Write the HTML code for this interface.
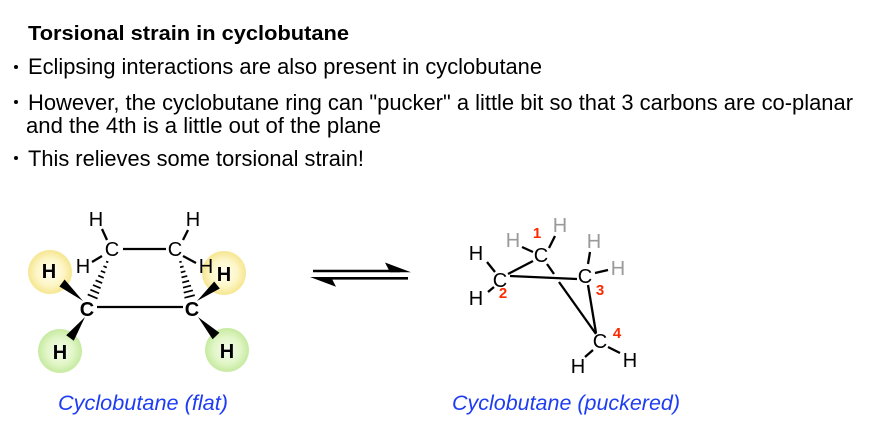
<!DOCTYPE html>
<html><head><meta charset="utf-8"><style>
html,body{margin:0;padding:0;background:#fff;}
svg{display:block;}
text{font-family:"Liberation Sans",Arial,sans-serif;}
</style></head><body>
<svg width="870" height="442" viewBox="0 0 870 442" xmlns="http://www.w3.org/2000/svg">
<defs>
<radialGradient id="yg" cx="50%" cy="50%" r="50%">
<stop offset="0%" stop-color="#fffef2"/><stop offset="60%" stop-color="#fdf6c8"/><stop offset="100%" stop-color="#f6e690"/>
</radialGradient>
<radialGradient id="gg" cx="50%" cy="50%" r="50%">
<stop offset="0%" stop-color="#f6fcec"/><stop offset="60%" stop-color="#e2f6c8"/><stop offset="100%" stop-color="#c6eaa0"/>
</radialGradient>
</defs>
<rect width="870" height="442" fill="#fff"/>

<!-- Header text -->
<text x="28" y="40" font-size="20" font-weight="bold" textLength="321" lengthAdjust="spacingAndGlyphs">Torsional strain in cyclobutane</text>
<circle cx="16" cy="67" r="2" fill="#000"/>
<text x="28" y="74" font-size="22" textLength="514" lengthAdjust="spacingAndGlyphs">Eclipsing interactions are also present in cyclobutane</text>
<circle cx="16" cy="102" r="2" fill="#000"/>
<text x="28" y="110" font-size="22" textLength="825" lengthAdjust="spacingAndGlyphs">However, the cyclobutane ring can "pucker" a little bit so that 3 carbons are co-planar</text>
<text x="26" y="133" font-size="22" textLength="355" lengthAdjust="spacingAndGlyphs">and the 4th is a little out of the plane</text>
<circle cx="16" cy="158" r="2" fill="#000"/>
<text x="28" y="166" font-size="22" textLength="336" lengthAdjust="spacingAndGlyphs">This relieves some torsional strain!</text>

<!-- Left molecule: balls -->
<circle cx="50" cy="272" r="22" fill="url(#yg)"/>
<circle cx="224" cy="273" r="22" fill="url(#yg)"/>
<circle cx="60" cy="351" r="22" fill="url(#gg)"/>
<circle cx="227" cy="350" r="22" fill="url(#gg)"/>

<g stroke="#000" stroke-width="2.3" stroke-linecap="butt" fill="none">
<line x1="102" y1="229" x2="107" y2="240"/>
<line x1="92" y1="262" x2="102" y2="256"/>
<line x1="183" y1="240" x2="188" y2="230"/>
<line x1="183" y1="256" x2="196" y2="263"/>
<line x1="123" y1="249" x2="166" y2="249"/>
<line x1="97" y1="307" x2="183" y2="307"/>
</g>
<!-- hashed bonds -->
<g stroke="#000" stroke-width="1.7">
<line x1="106.07" y1="261.42" x2="108.33" y2="262.38"/>
<line x1="103.45" y1="266.14" x2="106.79" y2="267.54"/>
<line x1="100.83" y1="270.85" x2="105.25" y2="272.71"/>
<line x1="98.21" y1="275.56" x2="103.71" y2="277.88"/>
<line x1="95.59" y1="280.28" x2="102.17" y2="283.04"/>
<line x1="92.97" y1="284.99" x2="100.63" y2="288.21"/>
<line x1="90.35" y1="289.7" x2="99.09" y2="293.38"/>
<line x1="87.73" y1="294.42" x2="97.55" y2="298.54"/>
<line x1="179.32" y1="262.21" x2="181.68" y2="261.59"/>
<line x1="180.05" y1="267.3" x2="183.55" y2="266.38"/>
<line x1="180.78" y1="272.39" x2="185.42" y2="271.17"/>
<line x1="181.52" y1="277.48" x2="187.28" y2="275.96"/>
<line x1="182.25" y1="282.57" x2="189.15" y2="280.75"/>
<line x1="182.99" y1="287.65" x2="191.01" y2="285.55"/>
<line x1="183.72" y1="292.74" x2="192.88" y2="290.34"/>
<line x1="184.46" y1="297.83" x2="194.74" y2="295.13"/>
</g>
<!-- solid wedges -->
<g fill="#000">
<polygon points="83,301 64.6,279.5 59.4,286.5"/>
<polygon points="197,301 219.8,288.5 214.2,281.5"/>
<polygon points="85,317 73.8,340.8 66.2,335.2"/>
<polygon points="198,317 219.4,332.7 212.6,339.3"/>
</g>

<g font-size="20" text-anchor="middle" fill="#000">
<text x="96" y="226">H</text>
<text x="112" y="256">C</text>
<text x="83" y="273">H</text>
<text x="175" y="256">C</text>
<text x="193" y="226">H</text>
<text x="206" y="273">H</text>
</g>
<g font-size="20" font-weight="bold" text-anchor="middle" fill="#000">
<text x="87" y="316">C</text>
<text x="192" y="316">C</text>
<text x="49" y="278">H</text>
<text x="224" y="281">H</text>
<text x="60" y="359">H</text>
<text x="227" y="358">H</text>
</g>

<text x="58" y="410" font-size="21" font-style="italic" fill="#1e3cf2" textLength="170" lengthAdjust="spacingAndGlyphs">Cyclobutane (flat)</text>

<!-- Equilibrium arrows -->
<g stroke="#000" stroke-width="2.6">
<line x1="313" y1="271" x2="400" y2="271"/>
<line x1="320" y1="278.3" x2="408" y2="278.3"/>
</g>
<polygon points="411,272.3 385,262.5 390,272.3" fill="#000"/>
<polygon points="310,277 336,286.8 331,277" fill="#000"/>

<!-- Right molecule bonds -->
<g stroke="#000" stroke-width="2.3" fill="none">
<line x1="487" y1="262" x2="495" y2="272"/>
<line x1="488" y1="292" x2="494" y2="287"/>
<line x1="508" y1="274" x2="533" y2="261"/>
<line x1="522" y1="247" x2="533" y2="252"/>
<line x1="549" y1="248" x2="555" y2="236"/>
<line x1="510" y1="276" x2="577" y2="279"/>
<line x1="547" y1="264" x2="554" y2="274"/>
<line x1="559" y1="282" x2="596" y2="334"/>
<line x1="588" y1="285" x2="596" y2="333"/>
<line x1="590" y1="252" x2="588" y2="264"/>
<line x1="595" y1="273" x2="608" y2="270"/>
<line x1="593" y1="350" x2="585" y2="357"/>
<line x1="608" y1="347" x2="620" y2="353"/>
</g>
<g font-size="20" text-anchor="middle" fill="#000">
<text x="541" y="262">C</text>
<text x="500" y="287">C</text>
<text x="585" y="283">C</text>
<text x="600" y="348">C</text>
<text x="476" y="260">H</text>
<text x="476" y="305">H</text>
<text x="578" y="373">H</text>
<text x="630" y="367">H</text>
</g>
<g font-size="20" text-anchor="middle" fill="#9a9a9a">
<text x="513" y="247">H</text>
<text x="560" y="232">H</text>
<text x="594" y="248">H</text>
<text x="618" y="275">H</text>
</g>
<g font-size="15" font-weight="bold" text-anchor="middle" fill="#ff2a00">
<text x="537" y="238">1</text>
<text x="503" y="298">2</text>
<text x="600" y="295">3</text>
<text x="617" y="338">4</text>
</g>

<text x="452" y="410" font-size="21" font-style="italic" fill="#1e3cf2" textLength="228" lengthAdjust="spacingAndGlyphs">Cyclobutane (puckered)</text>
</svg>
</body></html>
